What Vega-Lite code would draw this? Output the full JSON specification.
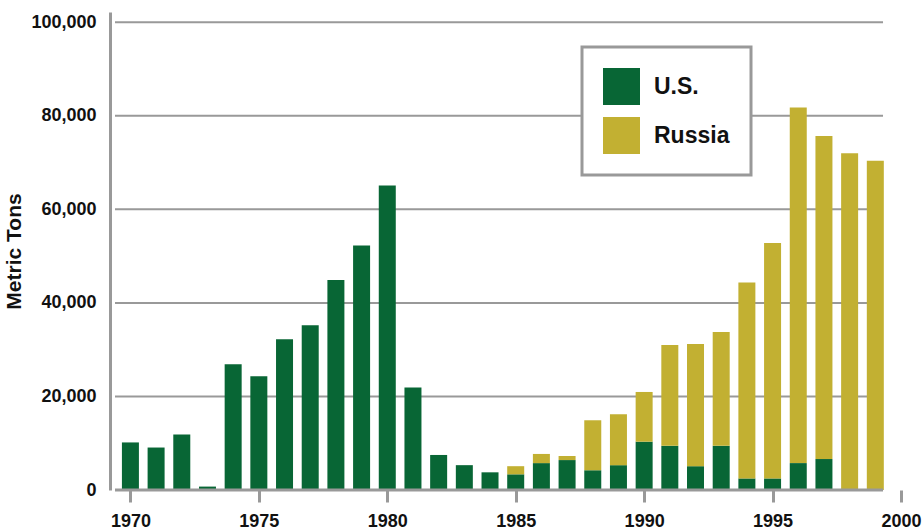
{
  "$schema": "https://vega.github.io/schema/vega-lite/v6.json",
  "width": 796,
  "height": 478,
  "autosize": {"type": "none"},
  "padding": {"left": 110, "top": 12, "right": 17, "bottom": 41},
  "background": "white",
  "config": {
    "view": {"stroke": null},
    "font": "Liberation Sans",
    "legend": {"strokeWidth": 3}
  },
  "layer": [
    {
      "data": {"values": [{"g": 20000}, {"g": 40000}, {"g": 60000}, {"g": 80000}, {"g": 100000}]},
      "mark": {"type": "rule", "color": "#999999", "strokeWidth": 2},
      "encoding": {
        "y": {"field": "g", "type": "quantitative"},
        "x": {"datum": 1969.4, "type": "quantitative"},
        "x2": {"datum": 1999.3}
      }
    },
    {
      "data": {"values": [
        {"year": 1970, "country": "U.S.", "tons": 10170},
        {"year": 1971, "country": "U.S.", "tons": 9080},
        {"year": 1972, "country": "U.S.", "tons": 11840},
        {"year": 1973, "country": "U.S.", "tons": 730},
        {"year": 1974, "country": "U.S.", "tons": 26870},
        {"year": 1975, "country": "U.S.", "tons": 24330},
        {"year": 1976, "country": "U.S.", "tons": 32240},
        {"year": 1977, "country": "U.S.", "tons": 35220},
        {"year": 1978, "country": "U.S.", "tons": 44900},
        {"year": 1979, "country": "U.S.", "tons": 52300},
        {"year": 1980, "country": "U.S.", "tons": 65100},
        {"year": 1981, "country": "U.S.", "tons": 21900},
        {"year": 1982, "country": "U.S.", "tons": 7490},
        {"year": 1983, "country": "U.S.", "tons": 5310},
        {"year": 1984, "country": "U.S.", "tons": 3780},
        {"year": 1985, "country": "U.S.", "tons": 3350},
        {"year": 1985, "country": "Russia", "tons": 1740},
        {"year": 1986, "country": "U.S.", "tons": 5750},
        {"year": 1986, "country": "Russia", "tons": 1960},
        {"year": 1987, "country": "U.S.", "tons": 6400},
        {"year": 1987, "country": "Russia", "tons": 870},
        {"year": 1988, "country": "U.S.", "tons": 4220},
        {"year": 1988, "country": "Russia", "tons": 10690},
        {"year": 1989, "country": "U.S.", "tons": 5310},
        {"year": 1989, "country": "Russia", "tons": 10910},
        {"year": 1990, "country": "U.S.", "tons": 10330},
        {"year": 1990, "country": "Russia", "tons": 10630},
        {"year": 1991, "country": "U.S.", "tons": 9450},
        {"year": 1991, "country": "Russia", "tons": 21550},
        {"year": 1992, "country": "U.S.", "tons": 5090},
        {"year": 1992, "country": "Russia", "tons": 26110},
        {"year": 1993, "country": "U.S.", "tons": 9450},
        {"year": 1993, "country": "Russia", "tons": 24350},
        {"year": 1994, "country": "U.S.", "tons": 2470},
        {"year": 1994, "country": "Russia", "tons": 41880},
        {"year": 1995, "country": "U.S.", "tons": 2470},
        {"year": 1995, "country": "Russia", "tons": 50330},
        {"year": 1996, "country": "U.S.", "tons": 5750},
        {"year": 1996, "country": "Russia", "tons": 76050},
        {"year": 1997, "country": "U.S.", "tons": 6620},
        {"year": 1997, "country": "Russia", "tons": 69080},
        {"year": 1998, "country": "Russia", "tons": 72000},
        {"year": 1999, "country": "Russia", "tons": 70400}
      ]},
      "mark": {"type": "bar", "width": 17},
      "encoding": {
        "x": {
          "field": "year",
          "type": "quantitative",
          "scale": {"domain": [1969.4, 2000], "nice": false, "zero": false},
          "axis": {
            "title": null,
            "values": [1970, 1975, 1980, 1985, 1990, 1995, 2000],
            "format": "d",
            "grid": false,
            "domain": false,
            "tickColor": "#999999",
            "tickWidth": 3,
            "tickSize": 12,
            "labelFont": "Liberation Sans",
            "labelFontWeight": "bold",
            "labelFontSize": 18,
            "labelColor": "#111111",
            "labelPadding": 10,
            "labelFlush": false,
            "labelOverlap": false
          }
        },
        "y": {
          "field": "tons",
          "type": "quantitative",
          "stack": "zero",
          "scale": {"domain": [0, 102200], "nice": false},
          "axis": {
            "title": "Metric Tons",
            "titleFont": "Liberation Sans",
            "titleFontWeight": "bold",
            "titleFontSize": 21,
            "titleColor": "#111111",
            "titlePadding": 6,
            "values": [0, 20000, 40000, 60000, 80000, 100000],
            "format": ",d",
            "grid": false,
            "ticks": false,
            "domainColor": "#999999",
            "domainWidth": 3,
            "labelFont": "Liberation Sans",
            "labelFontWeight": "bold",
            "labelFontSize": 18,
            "labelColor": "#111111",
            "labelPadding": 14,
            "labelOverlap": false
          }
        },
        "color": {
          "field": "country",
          "type": "nominal",
          "scale": {"domain": ["U.S.", "Russia"], "range": ["#086635", "#c2b032"]},
          "legend": {
            "title": null,
            "orient": "none",
            "legendX": 472,
            "legendY": 35,
            "fillColor": "white",
            "strokeColor": "#999999",
            "padding": 21,
            "symbolType": "square",
            "symbolSize": 1369,
            "symbolStrokeWidth": 0,
            "symbolOpacity": 1,
            "rowPadding": 12,
            "labelOffset": 14,
            "labelFont": "Liberation Sans",
            "labelFontWeight": "bold",
            "labelFontSize": 23,
            "labelColor": "#111111"
          }
        },
        "order": {"field": "country", "sort": "descending"}
      }
    },
    {
      "data": {"values": [{}]},
      "mark": {"type": "rule", "color": "#999999", "strokeWidth": 3},
      "encoding": {
        "y": {"datum": 0, "type": "quantitative"},
        "x": {"datum": 1969.4, "type": "quantitative"},
        "x2": {"datum": 1999.3}
      }
    }
  ]
}
